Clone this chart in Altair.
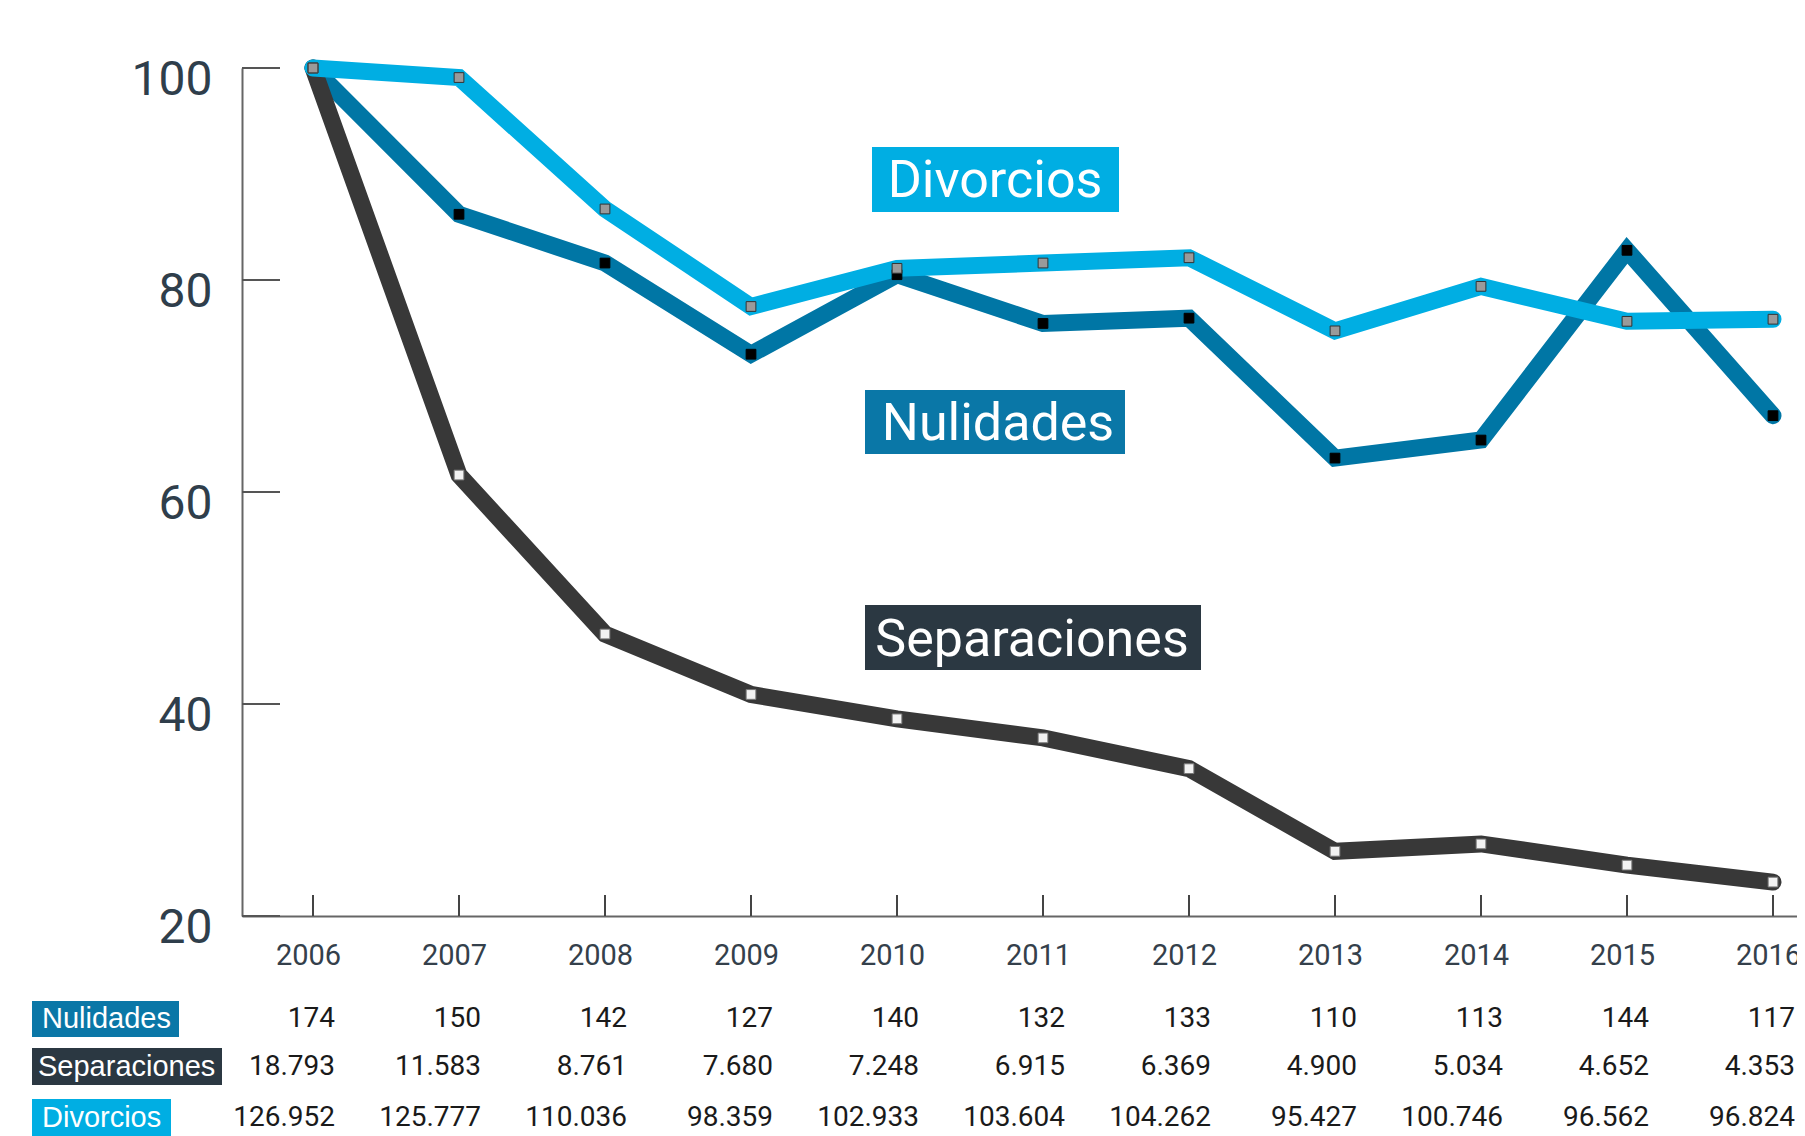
import altair as alt
import pandas as pd

# ---------------- data ----------------
years = [2006, 2007, 2008, 2009, 2010, 2011, 2012, 2013, 2014, 2015, 2016]
series = ["Nulidades", "Separaciones", "Divorcios"]

# index values (2006 = 100)
nulidades_idx = [100, 86.2, 81.6, 73.0, 80.5, 75.9, 76.4, 63.2, 64.9, 82.8, 67.2]
separaciones_idx = [100, 61.6, 46.6, 40.9, 38.6, 36.8, 33.9, 26.1, 26.8, 24.8, 23.2]
divorcios_idx = [100, 99.1, 86.7, 77.5, 81.1, 81.6, 82.1, 75.2, 79.4, 76.1, 76.3]

# absolute counts shown in the table under the chart
nulidades_n = [174, 150, 142, 127, 140, 132, 133, 110, 113, 144, 117]
separaciones_n = [18793, 11583, 8761, 7680, 7248, 6915, 6369, 4900, 5034, 4652, 4353]
divorcios_n = [126952, 125777, 110036, 98359, 102933, 103604, 104262, 95427, 100746, 96562, 96824]

y_ticks = [20, 40, 60, 80, 100]

# ---------------- styles / layout ----------------
line_color = {"Nulidades": "#0076a5", "Separaciones": "#383838", "Divorcios": "#00aee3"}
box_color = {"Nulidades": "#0a77a7", "Separaciones": "#2b3842", "Divorcios": "#00aee3"}
marker_fill = {"Nulidades": "#000000", "Separaciones": "#f2f2f2", "Divorcios": "#9a9a9a"}
marker_stroke = {"Nulidades": "#000000", "Separaciones": "#777777", "Divorcios": "#333333"}

W, H = 1555, 848
# in-plot label boxes (pixels, plot coordinates): x, x2, y, y2, text centre x, y
plot_labels = {
    "Divorcios": (630, 877, 79, 144, 753, 113),
    "Nulidades": (623, 883, 322, 386, 756, 356),
    "Separaciones": (623, 959, 537, 602, 790, 572),
}
# table rows (pixels, plot coordinates): box x, x2, y, y2, text x, row centre y
table_rows = {
    "Nulidades": (-210, -63, 933, 969, -200, 951),
    "Separaciones": (-210, -20, 980, 1017, -204, 999),
    "Divorcios": (-210, -71, 1031, 1070, -200, 1050),
}

def es(n):
    return f"{n:,}".replace(",", ".")

rows = []
for s, idx, cnt in zip(series, [nulidades_idx, separaciones_idx, divorcios_idx],
                       [nulidades_n, separaciones_n, divorcios_n]):
    for yr, v, c in zip(years, idx, cnt):
        rows.append({"year": yr, "serie": s, "idx": v, "label": es(c)})
df = pd.DataFrame(rows)

xscale = alt.Scale(domain=[2005.5137, 2016.1644], nice=False, zero=False)
yscale = alt.Scale(domain=[20, 100], nice=False, zero=False)

X = alt.X("year:Q", scale=xscale, title=None,
          axis=alt.Axis(values=years, format="d", ticks=False, tickSize=0, grid=False,
                        domainColor="#666666", domainWidth=2,
                        labelFont="Roboto", labelFontSize=29, labelColor="#34404b",
                        labelPadding=39, labelBaseline="middle", labelFlush=False,
                        labelOverlap=False, labelOffset=-5))
Y = alt.Y("idx:Q", scale=yscale, title=None,
          axis=alt.Axis(values=y_ticks, ticks=False, tickSize=0, grid=False,
                        domainColor="#666666", domainWidth=2,
                        labelFont="Roboto", labelFontSize=48, labelColor="#2f3e4b",
                        labelPadding=30, labelBaseline="middle", labelOffset=12,
                        labelFlush=False, labelOverlap=False))

layers = []

# inward ticks on the y axis
ytick_df = pd.DataFrame({"idx": y_ticks})
layers.append(alt.Chart(ytick_df).mark_rule(color="#555555", strokeWidth=2).encode(
    y=Y, x=alt.value(0), x2=alt.value(38)))

# inward ticks on the x axis
xtick_df = pd.DataFrame({"year": years})
layers.append(alt.Chart(xtick_df).mark_rule(color="#444444", strokeWidth=2).encode(
    x=X, y=alt.value(H), y2=alt.value(H - 21)))

# lines (Divorcios on top)
for s in ["Nulidades", "Separaciones", "Divorcios"]:
    layers.append(alt.Chart(df[df.serie == s]).mark_line(
        color=line_color[s], strokeWidth=17, strokeCap="round").encode(
        x=X, y=Y, order="year:Q"))

# square markers
for s in ["Nulidades", "Separaciones", "Divorcios"]:
    layers.append(alt.Chart(df[df.serie == s]).mark_square(
        size=95, fill=marker_fill[s], stroke=marker_stroke[s], strokeWidth=1,
        opacity=1, filled=True).encode(x=X, y=Y))

# in-plot series labels
for s, (x1, x2, y1, y2, tx, ty) in plot_labels.items():
    lab = pd.DataFrame({"t": [s]})
    layers.append(alt.Chart(lab).mark_rect(color=box_color[s]).encode(
        x=alt.value(x1), x2=alt.value(x2), y=alt.value(y1), y2=alt.value(y2)))
    layers.append(alt.Chart(lab).mark_text(
        font="Roboto", fontSize=52, color="white", align="center", baseline="middle").encode(
        x=alt.value(tx), y=alt.value(ty), text="t:N"))

# table below the chart
for s, (x1, x2, y1, y2, tx, ty) in table_rows.items():
    lab = pd.DataFrame({"t": [s]})
    layers.append(alt.Chart(lab).mark_rect(color=box_color[s]).encode(
        x=alt.value(x1), x2=alt.value(x2), y=alt.value(y1), y2=alt.value(y2)))
    layers.append(alt.Chart(lab).mark_text(
        font="Liberation Sans", fontSize=29, color="white", align="left", baseline="middle").encode(
        x=alt.value(tx), y=alt.value(ty), text="t:N"))
    layers.append(alt.Chart(df[df.serie == s]).mark_text(
        font="Roboto", fontSize=28, color="#1a1a1a", align="right",
        baseline="middle", dx=22).encode(
        x=X, y=alt.value(ty), text="label:N"))

chart = alt.layer(*layers).properties(
    width=W, height=H,
    autosize=alt.AutoSizeParams(type="none"),
    padding={"left": 234, "top": 60, "right": 0, "bottom": 220},
).configure_view(stroke=None)

chart.save("out.html", embed_options={"renderer": "svg", "actions": False})
